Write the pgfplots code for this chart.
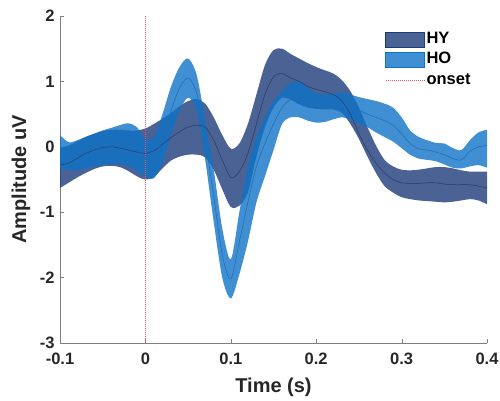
\documentclass[border=0pt]{standalone}
\usepackage{fontspec}
\setmainfont{Liberation Sans}
\usepackage{pgfplots}
\pgfplotsset{compat=1.18}
\usepackage{pgfplotstable}
\usepgfplotslibrary{fillbetween}

\definecolor{HYc}{RGB}{29,59,121}
\definecolor{HOc}{RGB}{15,115,199}
\definecolor{HYline}{RGB}{40,58,105}
\definecolor{HOline}{RGB}{35,105,175}
\definecolor{onsetc}{RGB}{250,80,90}

% t, upper, mean, lower
\pgfplotstableread{
t up m lo
-0.10 -0.02 -0.28 -0.63
-0.09 0.02 -0.25 -0.55
-0.08 0.08 -0.18 -0.47
-0.07 0.15 -0.10 -0.40
-0.06 0.20 -0.05 -0.34
-0.05 0.24 -0.01 -0.30
-0.04 0.26 0.00 -0.29
-0.03 0.26 -0.02 -0.31
-0.02 0.25 -0.05 -0.37
-0.01 0.25 -0.08 -0.45
0.00 0.28 -0.10 -0.50
0.01 0.35 -0.06 -0.46
0.02 0.43 0.04 -0.33
0.03 0.52 0.14 -0.21
0.04 0.62 0.23 -0.15
0.05 0.70 0.30 -0.12
0.06 0.73 0.33 -0.12
0.07 0.66 0.30 -0.16
0.08 0.45 0.10 -0.35
0.09 0.18 -0.20 -0.65
0.10 -0.03 -0.47 -0.92
0.11 0.05 -0.38 -0.90
0.12 0.35 -0.10 -0.70
0.13 0.80 0.35 -0.15
0.14 1.25 0.80 0.30
0.15 1.48 1.07 0.60
0.16 1.50 1.12 0.75
0.17 1.42 1.05 0.72
0.18 1.35 1.00 0.65
0.19 1.28 0.92 0.60
0.20 1.22 0.88 0.58
0.21 1.17 0.84 0.57
0.22 1.12 0.80 0.57
0.23 1.02 0.70 0.52
0.24 0.85 0.50 0.35
0.25 0.60 0.20 0.12
0.26 0.30 -0.05 -0.15
0.27 0.02 -0.25 -0.40
0.28 -0.20 -0.40 -0.60
0.29 -0.30 -0.50 -0.70
0.30 -0.35 -0.55 -0.77
0.31 -0.36 -0.56 -0.80
0.32 -0.35 -0.56 -0.82
0.33 -0.33 -0.55 -0.83
0.34 -0.31 -0.55 -0.84
0.35 -0.31 -0.57 -0.85
0.36 -0.33 -0.58 -0.84
0.37 -0.36 -0.58 -0.82
0.38 -0.38 -0.58 -0.80
0.39 -0.38 -0.60 -0.82
0.40 -0.38 -0.63 -0.88
}\hytable

\pgfplotstableread{
t up m lo
-0.10 0.18 -0.08 -0.33
-0.09 0.07 -0.14 -0.36
-0.08 0.10 -0.12 -0.36
-0.07 0.15 -0.08 -0.33
-0.06 0.20 -0.04 -0.30
-0.05 0.25 0.00 -0.28
-0.04 0.29 0.02 -0.27
-0.03 0.33 0.04 -0.27
-0.02 0.36 0.04 -0.29
-0.01 0.30 -0.04 -0.37
0.00 0.12 -0.18 -0.46
0.01 0.15 -0.18 -0.48
0.02 0.50 0.12 -0.25
0.03 0.92 0.55 0.18
0.04 1.22 0.90 0.55
0.05 1.35 1.05 0.75
0.06 1.10 0.82 0.55
0.07 0.40 0.10 -0.20
0.08 -0.35 -0.75 -1.15
0.09 -1.25 -1.65 -2.00
0.10 -1.72 -2.02 -2.32
0.11 -1.00 -1.45 -1.95
0.12 -0.30 -0.85 -1.45
0.13 0.15 -0.30 -0.85
0.14 0.45 0.05 -0.45
0.15 0.70 0.35 -0.05
0.16 0.85 0.60 0.35
0.17 0.98 0.72 0.45
0.18 1.00 0.72 0.45
0.19 0.90 0.65 0.40
0.20 0.82 0.60 0.37
0.21 0.80 0.60 0.38
0.22 0.82 0.62 0.42
0.23 0.83 0.63 0.45
0.24 0.80 0.62 0.42
0.25 0.76 0.56 0.35
0.26 0.73 0.50 0.30
0.27 0.70 0.45 0.22
0.28 0.66 0.40 0.15
0.29 0.60 0.33 0.08
0.30 0.45 0.20 -0.02
0.31 0.25 0.05 -0.12
0.32 0.15 -0.03 -0.18
0.33 0.10 -0.05 -0.20
0.34 0.06 -0.08 -0.22
0.35 0.05 -0.12 -0.27
0.36 -0.02 -0.18 -0.32
0.37 -0.05 -0.20 -0.33
0.38 0.10 -0.07 -0.30
0.39 0.22 0.00 -0.28
0.40 0.26 0.02 -0.32
}\hotable

\begin{document}
\begin{tikzpicture}
\begin{axis}[
  at={(0,0)}, anchor=south west,
  scale only axis, width=427pt, height=327pt,
  xmin=-0.1, xmax=0.4, ymin=-3, ymax=2,
  axis x line*=bottom, axis y line*=left,
  axis line style={draw=black!50, -},
  tick style={draw=black!50},
  tick align=inside, major tick length=4pt,
  xtick={-0.1,0,0.1,0.2,0.3,0.4},
  xticklabels={-0.1,0,0.1,0.2,0.3,0.4},
  ytick={-3,-2,-1,0,1,2},
  yticklabels={-3,-2,-1,0,1,2},
  ticklabel style={font=\fontsize{16.5}{18}\selectfont\bfseries, text=black!85},
  xticklabel style={yshift=-6pt},
  yticklabel style={xshift=-2pt},
  xlabel={Time (s)},
  ylabel={Amplitude uV},
  xlabel style={font=\fontsize{20}{22}\selectfont\bfseries, text=black!85,
    at={(axis description cs:0.5,0)}, anchor=north, inner sep=0pt, yshift=-35pt},
  ylabel style={font=\fontsize{20}{22}\selectfont\bfseries, text=black!85,
    at={(axis description cs:0,0.5)}, anchor=center, inner sep=0pt, yshift=39pt},
  legend cell align=left,
  legend style={at={(rel axis cs:0.761,0.957)}, anchor=north west,
    draw=none, fill=none, inner sep=0pt, row sep=2.5pt,
    font=\fontsize{16.5}{18}\selectfont\bfseries,
    nodes={inner xsep=1.5pt, inner ysep=1pt, text height=12pt, text depth=4pt}},
]
\addlegendimage{legend image code/.code={\fill[HYc, fill opacity=0.8] (0pt,-7.5pt) rectangle (39pt,7.5pt);}}
\addlegendentry{HY}
\addlegendimage{legend image code/.code={\fill[HOc, fill opacity=0.8] (0pt,-7.5pt) rectangle (39pt,7.5pt);}}
\addlegendentry{HO}
\addlegendimage{legend image code/.code={\draw[onsetc, dash pattern=on 1pt off 1pt, line width=0.9pt] (0pt,0pt) -- (39pt,0pt);}}
\addlegendentry{onset}

% onset marker first, so it lies under the bands
\addplot[draw={rgb,255:red,250;green,80;blue,90}, dash pattern=on 1pt off 1pt, line width=0.9pt, forget plot] coordinates {(0,-3) (0,2)};

\addplot[draw=none, smooth, name path=hyU, forget plot] table[x=t, y=up] {\hytable};
\addplot[draw=none, smooth, name path=hyL, forget plot] table[x=t, y=lo] {\hytable};
\addplot[fill=HYc, fill opacity=0.8, draw=none, forget plot] fill between[of=hyU and hyL];

\addplot[draw=none, smooth, name path=hoU, forget plot] table[x=t, y=up] {\hotable};
\addplot[draw=none, smooth, name path=hoL, forget plot] table[x=t, y=lo] {\hotable};
\addplot[fill=HOc, fill opacity=0.8, draw=none, forget plot] fill between[of=hoU and hoL];

\addplot[HYline, line width=0.5pt, smooth, forget plot] table[x=t, y=m] {\hytable};
\addplot[HOline, line width=0.5pt, smooth, forget plot] table[x=t, y=m] {\hotable};
\end{axis}
\pgfresetboundingbox
\path (-60pt,-58pt) rectangle (440pt,343pt);
\end{tikzpicture}
\end{document}
